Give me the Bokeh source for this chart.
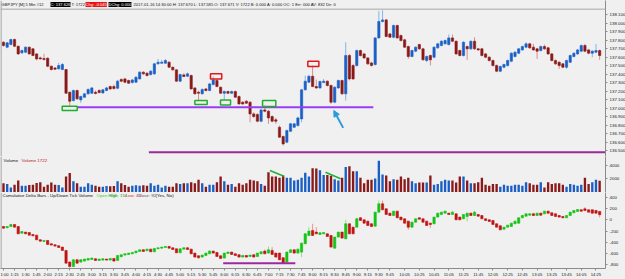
from bokeh.plotting import figure
from bokeh.layouts import column
from bokeh.models import (ColumnDataSource, Range1d, FixedTicker, PrintfTickFormatter,
                          Label, Span, Arrow, NormalHead)
from bokeh.embed import file_html
from bokeh.resources import INLINE

# ---------------- data ----------------
price_open = [137.774,137.716,137.747,137.806,137.727,137.649,137.657,137.716,137.696,137.637,
 137.590,137.582,137.586,137.492,137.472,137.461,137.453,137.453,137.186,137.088,
 137.206,137.096,137.127,137.167,137.174,137.186,137.206,137.178,137.206,137.253,
 137.253,137.233,137.335,137.343,137.324,137.300,137.304,137.343,137.422,137.410,
 137.394,137.402,137.520,137.527,137.527,137.539,137.480,137.449,137.316,137.390,
 137.374,137.382,137.237,137.186,137.167,137.225,137.206,137.276,137.324,137.245,
 137.174,137.194,137.174,137.194,137.135,137.069,137.080,137.069,136.931,136.923,
 136.845,136.978,136.963,136.900,136.861,136.774,136.665,136.598,136.727,136.774,
 136.794,136.872,137.214,137.304,137.374,137.253,137.237,137.300,137.316,137.265,
 137.069,137.237,137.324,137.167,137.618,137.500,137.500,137.676,137.637,137.590,
 137.531,137.512,137.825,138.018,138.037,137.872,137.833,137.971,137.853,137.802,
 137.723,137.606,137.669,137.747,137.696,137.559,137.618,137.598,137.708,137.735,
 137.755,137.747,137.825,137.786,137.676,137.618,137.723,137.696,137.786,137.696,
 137.696,137.637,137.598,137.559,137.500,137.433,137.480,137.500,137.551,137.606,
 137.645,137.684,137.716,137.755,137.716,137.696,137.676,137.723,137.708,137.637,
 137.559,137.539,137.520,137.480,137.539,137.606,137.637,137.669,137.735,137.684,
 137.645,137.657,137.676]
price_high = [137.786,137.778,137.814,137.818,137.735,137.688,137.727,137.723,137.704,137.645,
 137.606,137.637,137.598,137.500,137.480,137.531,137.531,137.461,137.194,137.218,
 137.218,137.147,137.178,137.233,137.249,137.206,137.222,137.225,137.249,137.265,
 137.276,137.331,137.351,137.355,137.335,137.343,137.374,137.433,137.433,137.422,
 137.449,137.531,137.578,137.567,137.578,137.551,137.488,137.457,137.402,137.410,
 137.418,137.394,137.245,137.206,137.233,137.237,137.296,137.371,137.335,137.253,
 137.206,137.206,137.206,137.206,137.147,137.080,137.096,137.080,136.951,136.939,
 136.990,137.029,136.978,136.912,136.884,136.794,136.676,136.747,136.825,136.825,
 136.900,137.225,137.382,137.390,137.500,137.335,137.324,137.343,137.324,137.276,
 137.257,137.335,137.335,137.774,137.637,137.520,137.688,137.688,137.649,137.598,
 137.543,137.833,138.140,138.150,138.049,137.884,137.982,137.982,137.865,137.814,
 137.735,137.688,137.727,137.755,137.708,137.618,137.629,137.727,137.767,137.798,
 137.806,137.865,137.865,137.794,137.688,137.786,137.735,137.794,137.833,137.708,
 137.708,137.649,137.610,137.571,137.512,137.500,137.523,137.571,137.657,137.669,
 137.708,137.735,137.774,137.767,137.755,137.708,137.735,137.747,137.720,137.649,
 137.571,137.551,137.531,137.571,137.629,137.657,137.696,137.747,137.755,137.696,
 137.680,137.755,137.688]
price_low = [137.723,137.704,137.739,137.716,137.625,137.637,137.645,137.629,137.610,137.559,
 137.571,137.559,137.480,137.441,137.449,137.453,137.445,137.167,137.029,137.076,
 137.096,137.061,137.120,137.159,137.167,137.159,137.171,137.167,137.198,137.214,
 137.218,137.222,137.304,137.292,137.284,137.288,137.296,137.335,137.390,137.371,
 137.382,137.390,137.512,137.520,137.520,137.472,137.441,137.308,137.308,137.363,
 137.367,137.218,137.159,137.088,137.159,137.194,137.198,137.269,137.245,137.167,
 137.096,137.167,137.167,137.120,137.037,137.037,137.049,136.833,136.884,136.833,
 136.833,136.951,136.814,136.833,136.814,136.649,136.559,136.586,136.720,136.767,
 136.782,136.833,137.206,137.292,137.245,137.225,137.225,137.292,137.253,137.049,
 137.057,137.225,137.155,137.088,137.324,137.331,137.488,137.606,137.578,137.508,
 137.488,137.500,137.814,138.006,137.833,137.825,137.821,137.814,137.782,137.708,
 137.578,137.598,137.657,137.684,137.559,137.539,137.500,137.586,137.696,137.727,
 137.747,137.735,137.774,137.625,137.606,137.606,137.567,137.684,137.684,137.673,
 137.606,137.586,137.547,137.488,137.422,137.422,137.469,137.488,137.539,137.594,
 137.633,137.673,137.704,137.696,137.673,137.578,137.665,137.684,137.625,137.547,
 137.508,137.461,137.469,137.461,137.527,137.594,137.625,137.657,137.657,137.633,
 137.598,137.645,137.567]
price_close = [137.735,137.767,137.806,137.727,137.637,137.676,137.716,137.637,137.618,137.578,
 137.578,137.571,137.492,137.453,137.457,137.500,137.512,137.174,137.080,137.206,
 137.108,137.135,137.167,137.218,137.237,137.171,137.182,137.214,137.237,137.225,
 137.229,137.316,137.316,137.304,137.292,137.331,137.363,137.422,137.402,137.382,
 137.433,137.520,137.539,137.539,137.559,137.480,137.449,137.316,137.394,137.371,
 137.402,137.225,137.167,137.174,137.218,137.206,137.284,137.331,137.253,137.174,
 137.194,137.174,137.194,137.127,137.049,137.049,137.057,136.931,136.900,136.845,
 136.978,136.963,136.884,136.845,136.845,136.657,136.578,136.735,136.814,136.814,
 136.884,137.214,137.316,137.374,137.253,137.237,137.312,137.316,137.265,137.069,
 137.245,137.324,137.167,137.618,137.343,137.343,137.676,137.618,137.590,137.520,
 137.500,137.825,138.018,138.037,137.841,137.833,137.971,137.825,137.794,137.716,
 137.606,137.676,137.716,137.696,137.567,137.606,137.567,137.716,137.755,137.786,
 137.794,137.825,137.786,137.637,137.618,137.774,137.696,137.786,137.696,137.684,
 137.618,137.598,137.559,137.500,137.433,137.488,137.512,137.559,137.645,137.657,
 137.696,137.723,137.755,137.708,137.684,137.669,137.723,137.696,137.637,137.559,
 137.520,137.500,137.480,137.559,137.618,137.645,137.684,137.735,137.669,137.645,
 137.669,137.676,137.618]

volume = [1330,1220,710,1120,1730,970,970,1070,1120,1380,
 1480,820,1120,1430,1120,1070,710,2350,2860,1630,
 1330,820,820,1330,1120,970,820,820,920,870,
 920,1630,1330,1070,820,970,1020,970,1020,970,
 1330,970,1120,710,970,820,820,1330,1220,1330,
 1330,1480,1330,1840,1330,820,1120,1120,1480,2350,
 1630,1120,1220,820,1330,1120,1330,1840,1730,1630,
 1220,970,2960,2350,2350,2140,2500,2140,2140,1730,
 1840,2140,2900,2350,3570,3520,3260,2550,2550,2450,
 1940,1730,2140,3770,3880,3110,3110,2140,1330,1840,
 1840,2040,4690,2650,2500,1630,1940,1840,2350,1940,
 2140,1630,1330,1430,1430,1430,2500,1120,1220,1630,
 1840,1730,1730,1430,2350,2350,1730,1330,1330,1480,
 2140,1120,970,1220,1220,820,1120,970,970,1120,
 1120,970,1480,1330,1120,1120,1480,710,1480,1220,
 1330,1330,1120,820,1220,1120,970,1120,2140,1220,
 1480,1840,1722]

delta_open = [-119,-143,-119,-83,-119,-238,-220,-226,-262,-274,
 -357,-387,-369,-428,-446,-464,-488,-547,-756,-833,
 -714,-756,-738,-720,-708,-696,-726,-720,-702,-720,
 -690,-726,-660,-631,-619,-607,-589,-565,-536,-553,
 -524,-571,-518,-506,-494,-476,-500,-518,-589,-524,
 -500,-524,-595,-643,-666,-637,-607,-559,-583,-643,
 -684,-601,-577,-607,-625,-666,-637,-655,-625,-655,
 -607,-559,-595,-547,-595,-595,-678,-756,-583,-536,
 -595,-577,-428,-280,-190,-220,-262,-250,-250,-280,
 -506,-309,-220,-339,-71,-131,-131,36,0,-24,
 -71,-113,137,286,196,119,77,155,48,18,
 -24,-131,-42,36,18,-24,-60,-71,48,95,
 119,119,95,107,48,18,60,119,77,95,
 77,18,0,-12,-71,-107,-167,-131,-119,-71,
 -60,36,65,83,107,77,119,107,155,125,
 107,77,60,36,77,125,149,179,196,179,
 179,167,150]
delta_high = [-113,-113,-77,-77,-113,-202,-214,-220,-256,-268,
 -351,-363,-363,-422,-440,-458,-482,-541,-738,-708,
 -708,-702,-696,-684,-678,-690,-696,-690,-696,-684,
 -684,-631,-619,-601,-589,-577,-553,-530,-530,-518,
 -518,-506,-494,-482,-470,-470,-494,-512,-512,-494,
 -494,-518,-589,-637,-625,-589,-541,-553,-577,-637,
 -589,-571,-571,-601,-619,-631,-631,-625,-619,-589,
 -565,-530,-476,-488,-589,-589,-672,-571,-530,-530,
 -518,-405,-238,-131,-71,-131,-226,-220,-244,-274,
 -303,-214,-214,0,-65,-125,36,48,6,-18,
 -65,143,345,345,202,125,161,161,54,24,
 -18,-36,24,42,24,-18,-54,54,125,143,
 161,125,161,113,54,101,125,125,161,101,
 83,24,6,-6,-65,-101,-125,-89,-54,-18,
 42,83,113,113,125,125,125,161,161,131,
 113,83,65,83,143,173,190,184,226,184,
 184,173,154]
delta_low = [-155,-149,-125,-137,-256,-244,-256,-280,-292,-363,
 -387,-393,-446,-458,-476,-500,-553,-780,-880,-845,
 -785,-768,-744,-726,-714,-732,-732,-726,-726,-726,
 -744,-732,-666,-637,-625,-613,-595,-571,-571,-559,
 -577,-577,-524,-512,-500,-512,-536,-595,-595,-530,
 -536,-613,-672,-696,-672,-643,-613,-601,-660,-696,
 -690,-607,-625,-643,-672,-672,-672,-660,-672,-660,
 -613,-613,-601,-625,-672,-720,-790,-762,-589,-601,
 -601,-666,-434,-286,-286,-256,-268,-256,-304,-494,
 -512,-315,-333,-345,-256,-256,-137,-18,-66,-107,
 -125,-119,131,173,89,71,71,30,-6,-66,
 -179,-137,-48,6,-48,-107,-143,-77,42,89,
 113,89,89,-6,-6,12,-30,71,71,59,
 12,-18,-36,-89,-137,-185,-173,-137,-125,-77,
 -66,30,59,77,71,71,77,101,113,71,
 54,42,30,30,71,119,143,149,161,131,
 113,113,43]
delta_close = [-149,-119,-83,-131,-250,-208,-250,-274,-286,-357,
 -381,-369,-440,-452,-470,-494,-547,-774,-833,-714,
 -774,-714,-702,-690,-684,-726,-702,-696,-720,-690,
 -738,-637,-625,-607,-595,-583,-559,-536,-565,-524,
 -571,-512,-500,-488,-476,-506,-530,-589,-518,-500,
 -530,-607,-666,-678,-631,-595,-559,-595,-655,-690,
 -595,-577,-619,-637,-666,-637,-666,-631,-666,-595,
 -571,-607,-536,-619,-666,-714,-774,-577,-536,-595,
 -524,-417,-250,-202,-280,-250,-232,-226,-298,-488,
 -309,-220,-327,-71,-250,-250,18,-12,-60,-101,
 -119,137,286,179,95,77,155,36,0,-60,
 -131,-42,18,12,-42,-101,-83,48,119,137,
 155,95,137,0,0,95,119,77,137,65,
 18,-12,-30,-83,-131,-179,-131,-95,-60,-24,
 36,77,107,107,77,119,83,155,119,77,
 60,48,36,77,137,167,184,155,167,137,
 119,119,92]

tick_labels = ["1:00","1:15","1:30","1:45","2:00","2:15","2:30","2:45","3:00","3:15",
 "3:30","3:45","4:00","4:15","4:30","4:45","5:00","5:15","5:30","5:45","6:00","6:15",
 "6:30","6:45","7:00","7:15","7:30","7:45","8:00","8:15","8:30","8:45","9:00","9:15",
 "9:30","9:45","10:05","10:25","10:45","11:05","11:25","11:45","12:05","12:25","12:45",
 "13:05","13:25","13:45","14:05","14:25"]
price_ticks = [136.5,136.6,136.7,136.8,136.9,137.0,137.1,137.2,137.3,137.4,137.5,
               137.6,137.7,137.8,137.9,138.0,138.1]
volume_ticks = [2000, 4000]
delta_ticks = [-800,-600,-400,-200,0,200,400]

# annotation levels
support_level = 137.010
low_level = 136.480
delta_level = -775
green_boxes = dict(left=[15.95,52.0,58.97,70.4], right=[20.03,55.35,61.7,74.0],
                   top=[137.022,137.088,137.096,137.088], bottom=[136.971,137.041,137.037,137.018])
red_boxes = dict(left=[56.25,82.7], right=[59.3,85.7], top=[137.402,137.551], bottom=[137.343,137.488])

# ---------------- styling ----------------
FONT = "Liberation Sans"
FS = "4.4px"
HFS = "4.1px"
BG = "#f0f0f0"
FRAME_W = 605
XR = (-0.815, 163.59)
n = len(price_close)
idx = list(range(n))

def bar_index(lbl):
    h, m = lbl.split(":")
    return (int(h) * 60 + int(m) - 60) // 5

def make_fig(h, yr, ticks, fmt, bottom=0):
    f = figure(frame_width=FRAME_W, frame_height=h, x_range=Range1d(*XR), y_range=Range1d(*yr),
               output_backend="svg", toolbar_location=None, y_axis_location="right",
               x_axis_location="below" if bottom else None,
               min_border_left=0, min_border_top=0, min_border_right=20, min_border_bottom=bottom,
               background_fill_color=BG, border_fill_color=BG, outline_line_color=None)
    f.grid.visible = False
    ax = f.yaxis[0]
    ax.ticker = FixedTicker(ticks=ticks)
    ax.formatter = PrintfTickFormatter(format=fmt)
    ax.major_label_text_font = FONT
    ax.major_label_text_font_size = FS
    ax.major_label_text_color = "#222222"
    ax.major_tick_out = 2
    ax.major_tick_in = 0
    ax.minor_tick_line_color = None
    ax.axis_line_color = "#8c8c8c"
    ax.major_tick_line_color = "#8c8c8c"
    ax.major_label_standoff = 2
    f.add_layout(Span(location=-0.68, dimension="height", line_color="#8c8c8c", line_width=1))
    return f

def candles(f, o, h, l, c, up_body, up_wick, dn_body, dn_wick, width=0.62):
    up = [cc >= oo for oo, cc in zip(o, c)]
    src = ColumnDataSource(dict(
        x=idx, h=h, l=l,
        top=[max(a, b) for a, b in zip(o, c)],
        bottom=[min(a, b) for a, b in zip(o, c)],
        body=[up_body if u else dn_body for u in up],
        wick=[up_wick if u else dn_wick for u in up]))
    f.segment(x0="x", y0="h", x1="x", y1="l", line_color="wick", line_width=1, source=src)
    f.vbar(x="x", width=width, top="top", bottom="bottom", fill_color="body",
           line_color="body", line_width=0.6, source=src)

def label(f, x, y, text, color="#111111", bg=None, size=FS, screen=False):
    lab = Label(x=x, y=y, text=text, text_font=FONT, text_font_size=size, text_color=color,
                text_baseline="middle", text_align="left")
    if screen:
        lab.x_units = "screen"
    if bg is not None:
        lab.background_fill_color = bg
    f.add_layout(lab)

def px(xpix):
    return (xpix - 3) / 3.68

# ---------------- price panel ----------------
p1 = make_fig(156, (136.430, 138.265), price_ticks, "%.3f")
candles(p1, price_open, price_high, price_low, price_close,
        "#1b5fc6", "#86b3ea", "#8a1a1a", "#d58e8e")
p1.add_layout(Span(location=138.163, dimension="width", line_color="#a8a8a8", line_width=1))
p1.line([20.03, 100.5], [support_level, support_level], line_color="#9b3cf5", line_width=2)
p1.line([39.5, 163.6], [low_level, low_level], line_color="#9c2a9c", line_width=2)
p1.quad(source=ColumnDataSource(green_boxes), left="left", right="right", top="top", bottom="bottom",
        fill_alpha=0, line_color="#1fae2a", line_width=1.5)
p1.quad(source=ColumnDataSource(red_boxes), left="left", right="right", top="top", bottom="bottom",
        fill_alpha=0, line_color="#e0191b", line_width=1.5)
p1.add_layout(Arrow(end=NormalHead(size=6, fill_color="#2c9bd8", line_color="#2c9bd8"),
                    x_start=92.3, y_start=136.767, x_end=89.76, y_end=136.971,
                    line_color="#2c9bd8", line_width=2))
hy = 138.218
label(p1, px(1), hy, "GBPJPY [M] 5 Min #12", size=HFS)
label(p1, px(50), hy, "C: 137.626", color="white", bg="#000000", size=HFS)
label(p1, px(71), hy, "T: 1722", size=HFS)
label(p1, px(85), hy, "Chg: -0.045", color="white", bg="#ee1111", size=HFS)
label(p1, px(108), hy, "DChg: 0.000", color="white", bg="#000000", size=HFS)
label(p1, px(133), hy, "2017-01-16 14:30:00 H: 137.670 L: 137.585 O: 137.671 V: 1722 B: 0.000 A: 0.000 OC: 1 Err: 000 AV: 832 Dir: 0", size=HFS)
label(p1, 607, price_close[-1], "137.626", color="#f0f0ff", bg="#8585d8", screen=True)

# ---------------- volume panel ----------------
p2 = make_fig(36, (-45, 5330), volume_ticks, "%d")
vcol = ["#1b5fc6" if c >= o else "#8a1a1a" for o, c in zip(price_open, price_close)]
p2.vbar(x=idx, top=volume, bottom=0, width=0.64, fill_color=vcol, line_color=None)
p2.line([72.4, 76.2], [3230, 2380], line_color="#22b03a", line_width=1.5)
p2.line([87.5, 91.6], [2980, 2000], line_color="#22b03a", line_width=1.5)
label(p2, px(3), 4807, "Volume")
label(p2, px(21), 4807, "Volume 1722", color="#b01818")

# ---------------- cumulative delta panel ----------------
p3 = make_fig(76, (-870, 488), delta_ticks, "%d", bottom=11)
candles(p3, delta_open, delta_high, delta_low, delta_close,
        "#14c414", "#8fe08f", "#c01414", "#ea9494")
p3.line([59.7, 79.3], [delta_level, delta_level], line_color="#9c2a9c", line_width=2)
ly = 443
label(p3, px(2), ly, "Cumulative Delta Bars - Up/Down Tick Volume")
label(p3, px(96), ly, "Open: 150", color="#33cc33")
label(p3, px(108), ly, "High: 154", color="#2a9a2a")
label(p3, px(125), ly, "Low: 43", color="#e03030")
label(p3, px(137), ly, "Close: 92", color="#555555")
label(p3, px(155), ly, "(Yes, No)")
xa = p3.xaxis[0]
tick_pos = [bar_index(t) for t in tick_labels]
xa.ticker = FixedTicker(ticks=tick_pos)
xa.major_label_overrides = {k: t for k, t in zip(tick_pos, tick_labels)}
xa.major_label_text_font = FONT
xa.major_label_text_font_size = "4.2px"
xa.major_label_text_color = "#222222"
xa.major_tick_out = 2
xa.major_tick_in = 0
xa.minor_tick_line_color = None
xa.axis_line_color = "#8c8c8c"
xa.major_tick_line_color = "#8c8c8c"
xa.major_label_standoff = 1
label(p3, 618, -955, " x ", color="white", bg="#e01010", screen=True)

layout = column(p1, p2, p3, spacing=0)
layout.styles = {"background-color": BG}
open("out.html", "w").write(file_html(layout, INLINE))
